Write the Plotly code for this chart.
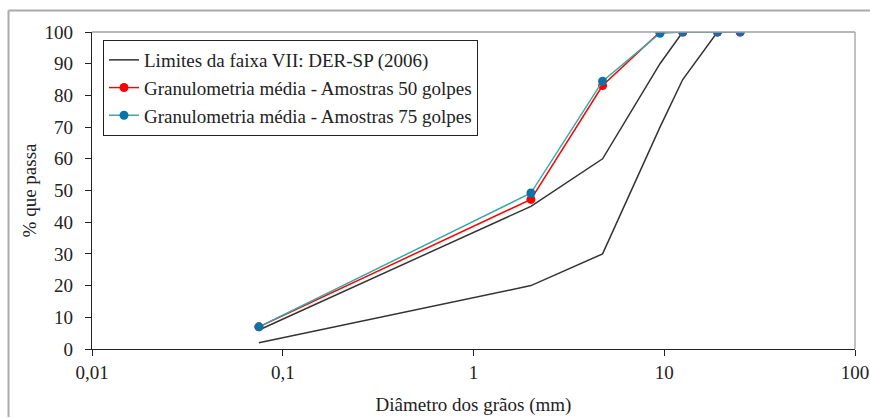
import plotly.graph_objects as go

# Sieve sizes (mm)
sieves = [0.075, 2.0, 4.75, 9.5, 12.5, 19.0, 25.0]
upper_limit = [6, 45, 60, 90, 100, 100, 100]
lower_limit = [2, 20, 30, 70, 85, 100, 100]
gran_50 = [7, 47.2, 83.1, 100, 100, 100, 100]
gran_75 = [7, 49.2, 84.5, 99.6, 100, 100, 100]

x_tickvals = [0.01, 0.1, 1, 10, 100]
x_ticktext = ["0,01", "0,1", "1", "10", "100"]
y_tickvals = [0, 10, 20, 30, 40, 50, 60, 70, 80, 90, 100]

FONT = "Liberation Serif, Times New Roman, serif"
FS = 19

fig = go.Figure()
fig.add_trace(go.Scatter(x=sieves, y=upper_limit, mode="lines",
                         line=dict(color="#333333", width=1.5),
                         name="Limites da faixa VII: DER-SP (2006)"))
fig.add_trace(go.Scatter(x=sieves, y=lower_limit, mode="lines",
                         line=dict(color="#333333", width=1.5),
                         showlegend=False, name="lower"))
fig.add_trace(go.Scatter(x=sieves, y=gran_50, mode="lines+markers",
                         line=dict(color="#ff0000", width=1.5),
                         marker=dict(color="#ff0000", size=9),
                         name="Granulometria média - Amostras 50 golpes"))
fig.add_trace(go.Scatter(x=sieves, y=gran_75, mode="lines+markers",
                         line=dict(color="#3aa8a8", width=1.5),
                         marker=dict(color="#0e72a8", size=9),
                         name="Granulometria média - Amostras 75 golpes"))

W, H = 870, 418
L, R, T, B = 92, 15, 32, 69
pw, ph = W - L - R, H - T - B

xb = -(L - 8.5) / pw          # outer chart border, left edge
yb = 1 + (T - 10.5) / ph      # outer chart border, top edge

fig.update_layout(
    width=W, height=H,
    margin=dict(l=L, r=R, t=T, b=B, autoexpand=False),
    paper_bgcolor="white", plot_bgcolor="white",
    font=dict(family=FONT, size=FS, color="#222222"),
    showlegend=True,
    legend=dict(x=(103 - L) / pw, y=1 - (40 - T) / ph, xanchor="left", yanchor="top",
                bordercolor="#222222", borderwidth=1, bgcolor="white",
                font=dict(family=FONT, size=FS, color="#222222"),
                tracegroupgap=0, itemwidth=30),
    xaxis=dict(type="log", range=[-2, 2], tickvals=x_tickvals, ticktext=x_ticktext,
               automargin=False,
               showgrid=False, zeroline=False, showline=True, linecolor="#222222",
               linewidth=1.3, ticks="outside", ticklen=6, tickcolor="#222222",
               tickfont=dict(family=FONT, size=FS),
               title=dict(text="Diâmetro dos grãos (mm)", font=dict(family=FONT, size=FS),
                          standoff=15)),
    yaxis=dict(range=[0, 100], tickvals=y_tickvals, showgrid=False, zeroline=False,
               automargin=False,
               showline=True, linecolor="#222222", linewidth=1.3, ticks="outside",
               ticklen=6, tickcolor="#222222", tickfont=dict(family=FONT, size=FS),
               ticklabelstandoff=8,
               title=dict(text="% que passa", font=dict(family=FONT, size=FS),
                          standoff=2)),
    shapes=[
        dict(type="line", xref="paper", yref="paper", x0=xb, x1=1 + (R + 5) / pw,
             y0=yb, y1=yb, line=dict(color="#aaaaaa", width=2)),
        dict(type="line", xref="paper", yref="paper", x0=xb, x1=xb,
             y0=-(B - 1) / ph, y1=yb, line=dict(color="#aaaaaa", width=2)),
        dict(type="line", xref="paper", yref="paper", x0=0, x1=1, y0=1, y1=1,
             line=dict(color="#a0a0a0", width=1.3)),
        dict(type="line", xref="paper", yref="paper", x0=1, x1=1, y0=0, y1=1,
             line=dict(color="#a0a0a0", width=1.3)),
    ],
)

fig.write_html(
    "out.html",
    config={"displayModeBar": False},
    post_script="document.body.style.margin='0';document.body.style.overflow='hidden';",
)
